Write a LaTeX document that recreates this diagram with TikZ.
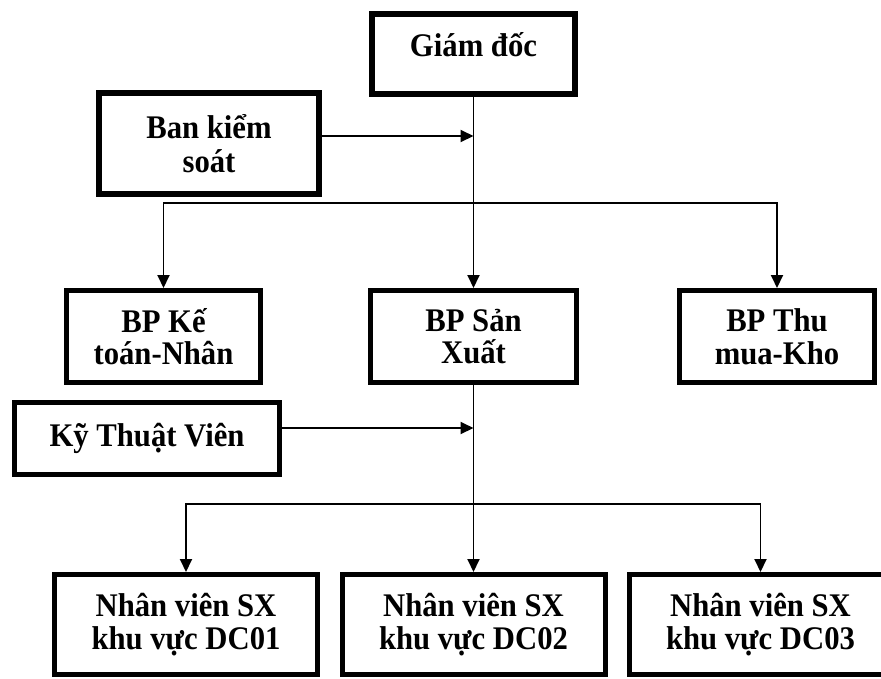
\documentclass[tikz,border=0pt]{standalone}
\usepackage{fontspec}
\setmainfont{Liberation Serif}[FakeStretch=0.93]
\usepackage{tikz}
\usetikzlibrary{arrows.meta}

\begin{document}
\begin{tikzpicture}[x=1pt, y=-1pt,
        >={Triangle[length=13pt, width=12pt]},
        box/.style={draw, line width=5pt, align=center, inner sep=0pt,
            font=\fontsize{33}{32.5}\selectfont\bfseries},
        link/.style={line width=1.9pt}]
        % --- 1. Parameters ---
        \def\busA{203}
        \def\busB{504}
        \useasboundingbox (0,0) rectangle (881,678);

        % --- 2. Top level ---
        \node[box, line width=6.5pt, minimum width=203pt, minimum height=80pt,
              text height=29pt, text depth=24pt] (gd) at (473.5,54) {Giám đốc};
        \node[box, line width=6.5pt, minimum width=220pt, minimum height=101pt]
              (bks) at (209,143.5) {Ban kiểm\\[2pt]soát};

        % --- 3. Departments ---
        \node[box, minimum width=194pt, minimum height=92pt] (kt) at (163.5,336.5) {BP Kế\\toán-Nhân};
        \node[box, minimum width=206pt, minimum height=92pt] (sx) at (473.5,336.5) {BP Sản\\Xuất};
        \node[box, minimum width=195pt, minimum height=92pt] (tm) at (777,336.5) {BP Thu\\mua-Kho};
        \node[box, minimum width=265pt, minimum height=72pt] (ktv) at (147,438.5) {Kỹ Thuật Viên};

        % --- 4. Staff ---
        \node[box, minimum width=263pt, minimum height=100pt] (nv1) at (186,624.5) {Nhân viên SX\\khu vực DC01};
        \node[box, minimum width=263pt, minimum height=100pt] (nv2) at (473.5,624.5) {Nhân viên SX\\khu vực DC02};
        \node[box, minimum width=263pt, minimum height=100pt] (nv3) at (760.5,624.5) {Nhân viên SX\\khu vực DC03};

        % --- 5. Links ---
        \draw[link, ->] (gd.south) -- (sx.north);
        \draw[link, ->] ([yshift=7.5pt]bks.east) -- ([yshift=7.5pt]bks.east -| gd.south);
        \draw[link, ->] (gd.south |- 0,\busA) -| (kt.north);
        \draw[link, ->] (gd.south |- 0,\busA) -| (tm.north);

        \draw[link, ->] (sx.south) -- (nv2.north);
        \draw[link, ->] ([yshift=10.5pt]ktv.east) -- ([yshift=10.5pt]ktv.east -| sx.south);
        \draw[link, ->] (sx.south |- 0,\busB) -| (nv1.north);
        \draw[link, ->] (sx.south |- 0,\busB) -| (nv3.north);
\end{tikzpicture}
\end{document}
